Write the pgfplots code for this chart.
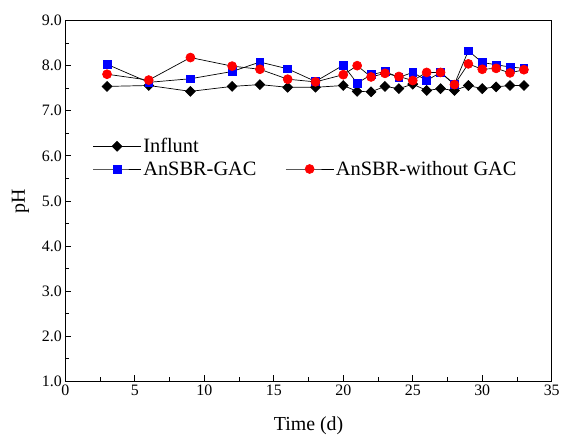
\documentclass[border=0pt]{standalone}
\usepackage{pgfplots}
\pgfplotsset{compat=1.18}
\usepackage{fontspec}
\setmainfont{Liberation Serif}

\begin{document}
\begin{tikzpicture}
\begin{axis}[
    name=ax,
    scale only axis,
    width=489pt, height=362.6pt,
    xmin=0, xmax=35,
    ymin=1, ymax=9,
    xtick={0,5,...,35},
    ytick={1,2,...,9},
    minor tick num=1,
    tick align=inside,
    tick pos=left,
    major tick length=6pt,
    minor tick length=4pt,
    tick style={black, line width=0.8pt},
    axis line style={line width=0.9pt},
    /pgf/number format/assume math mode=true,
    tick label style={font=\fontsize{16}{18}\selectfont},
    yticklabel style={/pgf/number format/.cd, fixed, fixed zerofill, precision=1},
    xlabel={Time (d)},
    ylabel={pH},
    label style={font=\fontsize{20}{24}\selectfont},
    xlabel style={at={(axis description cs:0.5,-0.124)}, anchor=center},
    ylabel style={at={(axis description cs:-0.092,0.5)}, anchor=center, rotate=0},
    legend columns=2,
    legend cell align=left,
    legend style={
        draw=none, fill=none,
        at={(axis description cs:0.05,0.685)},
        anchor=north west,
        font=\fontsize{20.5}{24}\selectfont,
        row sep=3pt,
        /tikz/every even column/.append style={column sep=27pt},
    },
    legend image code/.code={
        \draw[mark repeat=2,mark phase=2] plot coordinates {(0pt,0pt)(24pt,0pt)(48pt,0pt)};
    },
]

% Influent
\addplot[black, line width=0.7pt, mark=square*, mark size=3.5pt,
    mark options={rotate=45, fill=black, draw=black, solid}]
    coordinates {
    (3,7.54)(6,7.56)(9,7.43)(12,7.54)(14,7.58)(16,7.52)(18,7.52)
    (20,7.56)(21,7.43)(22,7.42)(23,7.54)(24,7.49)(25,7.59)(26,7.45)
    (27,7.49)(28,7.45)(29,7.56)(30,7.49)(31,7.53)(32,7.56)(33,7.56)
    };
    \addlegendentry{Influnt}
\addlegendimage{empty legend}
    \addlegendentry{}

% AnSBR-GAC
\addplot[black, line width=0.7pt, mark=square*, mark size=3.9pt,
    mark options={fill=blue, draw=blue, solid}]
    coordinates {
    (3,8.03)(6,7.63)(9,7.71)(12,7.87)(14,8.08)(16,7.93)(18,7.65)
    (20,8.01)(21,7.61)(22,7.80)(23,7.87)(24,7.74)(25,7.85)(26,7.67)
    (27,7.85)(28,7.59)(29,8.33)(30,8.07)(31,8.02)(32,7.97)(33,7.94)
    };
    \addlegendentry{AnSBR-GAC}

% AnSBR-without GAC
\addplot[black, line width=0.7pt, mark=*, mark size=4.5pt,
    mark options={fill=red, draw=red, solid}]
    coordinates {
    (3,7.81)(6,7.68)(9,8.18)(12,7.99)(14,7.92)(16,7.70)(18,7.64)
    (20,7.80)(21,8.00)(22,7.75)(23,7.83)(24,7.76)(25,7.67)(26,7.85)
    (27,7.85)(28,7.58)(29,8.04)(30,7.92)(31,7.94)(32,7.84)(33,7.91)
    };
    \addlegendentry{AnSBR-without GAC}

\end{axis}
\path (ax.south west) ++(-65.7pt,-52.7pt) rectangle ([shift={(8pt,20.7pt)}]ax.north east);
\end{tikzpicture}
\end{document}
